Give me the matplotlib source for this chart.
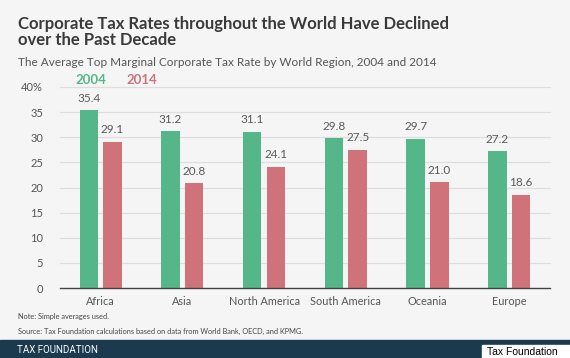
import matplotlib
matplotlib.use("Agg")
import matplotlib.pyplot as plt
import numpy as np

regions = ["Africa", "Asia", "North America", "South America", "Oceania", "Europe"]
rate_2004 = [35.4, 31.2, 31.1, 29.8, 29.7, 27.2]
rate_2014 = [29.1, 20.8, 24.1, 27.5, 21.0, 18.6]
yticks = [0, 5, 10, 15, 20, 25, 30, 35, 40]
ytick_labels = ["0", "5", "10", "15", "20", "25", "30", "35", "40%"]

green = "#55b68a"
red = "#d0727a"
bg = "#f5f5f5"

plt.rcParams['font.family'] = ['Lato', 'DejaVu Sans']

fig = plt.figure(figsize=(5.7, 3.58), dpi=100, facecolor=bg)
ax = fig.add_axes([0.105, 0.1955, 0.86, 0.5615], facecolor=bg)

x = np.arange(len(regions))
w = 0.225
off = 0.145
ax.bar(x - off, rate_2004, w, color=green, zorder=3)
ax.bar(x + off, rate_2014, w, color=red, zorder=3)
for i in range(len(regions)):
    ax.text(x[i] - off, rate_2004[i] + 1.3, "%.1f" % rate_2004[i], ha="center", va="bottom",
            fontsize=8.5, color="#5a5a5a")
    ax.text(x[i] + off, rate_2014[i] + 1.3, "%.1f" % rate_2014[i], ha="center", va="bottom",
            fontsize=8.5, color="#5a5a5a")

ax.set_xlim(-0.5, 5.5)
ax.set_ylim(0, 40)
ax.set_yticks(yticks)
ax.set_yticklabels(ytick_labels, fontsize=8, color="#555555")
ax.set_xticks(x)
ax.set_xticklabels(regions, fontsize=7.8, color="#555555")
ax.tick_params(length=0)
ax.tick_params(axis="y", pad=12)
ax.tick_params(axis="x", pad=6)
for s in ["top", "right", "left"]:
    ax.spines[s].set_visible(False)
ax.spines["bottom"].set_color("#444444")
ax.spines["bottom"].set_linewidth(1.0)
ax.spines["bottom"].set_zorder(4)
for t in yticks[1:]:
    ax.axhline(t, color="#dedede", lw=0.9, zorder=1, clip_on=False)

# legend as coloured text
ax.text(-0.31, 40.1, "2004", color=green, fontsize=9.5, fontweight="bold", va="bottom", ha="left")
ax.text(0.31, 40.1, "2014", color=red, fontsize=9.5, fontweight="bold", va="bottom", ha="left")

fig.text(0.031, 0.955, "Corporate Tax Rates throughout the World Have Declined\nover the Past Decade",
         fontsize=12, fontweight="bold", color="#3a3a3a", va="top", ha="left", linespacing=1.0)
fig.text(0.031, 0.825, "The Average Top Marginal Corporate Tax Rate by World Region, 2004 and 2014",
         fontsize=8.5, color="#555555", va="center", ha="left")

fig.text(0.031, 0.117, "Note: Simple averages used.", fontsize=5.3, color="#444444", va="center")
fig.text(0.031, 0.075, "Source: Tax Foundation calculations based on data from World Bank, OECD, and KPMG.",
         fontsize=5.3, color="#444444", va="center")

# footer bar
fig.patches.append(plt.Rectangle((0, 0), 1, 0.05, transform=fig.transFigure, color="#1b3a4e", zorder=0))
fig.text(0.03, 0.023, "TAX FOUNDATION", fontsize=7, color="white", va="center", family=["Roboto", "DejaVu Sans"])
fig.patches.append(plt.Rectangle((0.846, 0), 0.154, 0.037, transform=fig.transFigure, color="white", zorder=1))
fig.text(0.855, 0.018, "Tax Foundation", fontsize=7.5, color="black", va="center",
         family=["Liberation Sans", "DejaVu Sans"], zorder=2)

fig.savefig("out.png", dpi=100, facecolor=bg)
